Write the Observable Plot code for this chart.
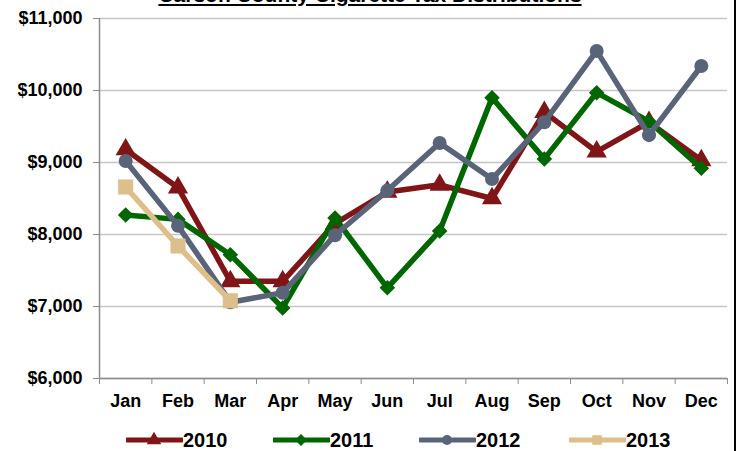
<!DOCTYPE html>
<html>
<head>
<meta charset="utf-8">
<script src="https://cdn.jsdelivr.net/npm/d3@7"></script>
<script src="https://cdn.jsdelivr.net/npm/@observablehq/plot@0.6"></script>
<style>
  body { margin: 0; background: white; font-family: "Liberation Sans", Arial, sans-serif; }
  #wrap { position: relative; width: 738px; height: 451px; overflow: hidden; background: white; }
  #title { position: absolute; top: -16px; left: 0; width: 740px; text-align: center;
           font-size: 21px; font-weight: bold; line-height: 21px; text-decoration: underline; color: #000; }
  #edge { position: absolute; left: 734px; top: 0; width: 2px; height: 451px; background: #000; }
  .leg { position: absolute; top: 428px; height: 24px; display: flex; align-items: center;
         font-size: 20px; font-weight: bold; color: #000; }
  .leg svg { display: block; margin-right: 0px; }
</style>
</head>
<body>
<div id="wrap">
  <div id="chart"></div>
  <div id="title">Carson County Cigarette Tax Distributions</div>
  <div id="edge"></div>
</div>
<script>
const months = ["Jan", "Feb", "Mar", "Apr", "May", "Jun", "Jul", "Aug", "Sep", "Oct", "Nov", "Dec"];
const years = ["2010", "2011", "2012", "2013"];
const v2010 = [9180, 8650, 7350, 7350, 8150, 8590, 8690, 8500, 9700, 9150, 9560, 9030];
const v2011 = [8270, 8210, 7720, 6980, 8230, 7260, 8050, 9900, 9050, 9970, 9570, 8920];
const v2012 = [9020, 8120, 7060, 7190, 7990, 8610, 9270, 8770, 9560, 10550, 9380, 10340];
const v2013 = [8660, 7840, 7080];
const yTicks = [6000, 7000, 8000, 9000, 10000, 11000];

const colors = ["#7f1517", "#006600", "#5a6479", "#dcbf8a"];
const symbols = ["triangle", "diamond2", "circle", "square"];
const radii = [7.5, 7, 7, 8.5];
const d3Symbols = [d3.symbolTriangle, d3.symbolDiamond2, d3.symbolCircle, d3.symbolSquare];

const series = [v2010, v2011, v2012, v2013].map((vals, s) =>
  vals.map((v, i) => ({year: years[s], month: months[i], i, value: v})));

const marks = [
  Plot.gridY(yTicks, {stroke: "#c6c6c6", strokeOpacity: 1, strokeWidth: 1.5}),
  Plot.ruleX([-0.5], {stroke: "#8c8c8c", strokeWidth: 1.5}),
  Plot.ruleY([6000], {stroke: "#8c8c8c", strokeWidth: 1.5}),
  Plot.axisY({ticks: yTicks, tickFormat: d3.format("$,"), tickSize: 6, tickPadding: 11,
              fontSize: 18, fontWeight: "bold", stroke: "#8c8c8c", fill: "#000", label: null}),
  Plot.axisX({ticks: d3.range(-0.5, 12, 1), tickFormat: () => "", tickSize: 6,
              stroke: "#8c8c8c", label: null}),
  Plot.axisX({ticks: d3.range(12), tickFormat: i => months[i], tickSize: 0, tickPadding: 16,
              fontSize: 18, fontWeight: "bold", fill: "#000", label: null})
];
series.forEach((rows, s) => {
  marks.push(Plot.line(rows, {x: "i", y: "value", stroke: colors[s], strokeWidth: 5.5,
                              strokeLinejoin: "round", curve: "linear"}));
  marks.push(Plot.dot(rows, {x: "i", y: "value", symbol: () => symbols[s], fill: colors[s],
                             r: radii[s], stroke: "none"}));
});

const chart = Plot.plot({
  width: 738,
  height: 420,
  marginLeft: 99,
  marginRight: 11,
  marginTop: 18,
  marginBottom: 42,
  x: {domain: [-0.5, 11.5], label: null},
  y: {domain: [6000, 11000], label: null},
  symbol: {type: "identity"},
  style: {fontFamily: "'Liberation Sans', Arial, sans-serif", background: "white", color: "#000", overflow: "visible"},
  marks
});
document.getElementById("chart").append(chart);

// legend below the chart
const legLeft = [126, 273, 419, 569];
const wrap = document.getElementById("wrap");
years.forEach((y, s) => {
  const item = document.createElement("div");
  item.className = "leg";
  item.style.left = legLeft[s] + "px";
  const sym = d3.symbol().type(d3Symbols[s]).size(s === 2 ? 80 : 90)();
  item.innerHTML =
    `<svg width="57" height="20"><line x1="1" x2="56" y1="10" y2="10" stroke="${colors[s]}" stroke-width="5" stroke-linecap="round"/>` +
    `<path transform="translate(28,10)" d="${sym}" fill="${colors[s]}"/></svg><span>${y}</span>`;
  wrap.append(item);
});
</script>
</body>
</html>
